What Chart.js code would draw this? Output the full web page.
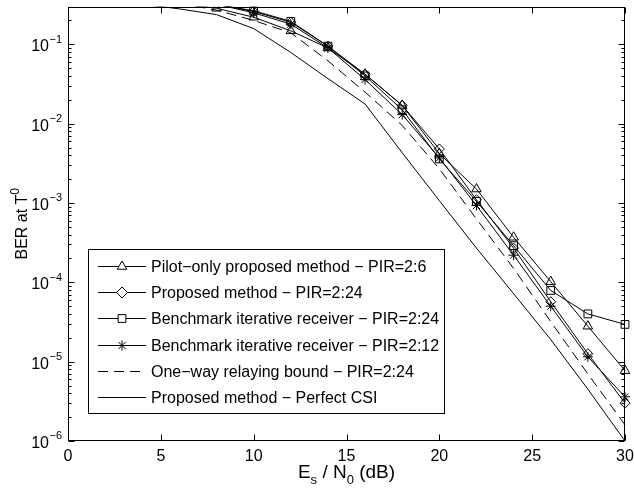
<!DOCTYPE html>
<html>
<head>
<meta charset="utf-8">
<script src="https://cdn.jsdelivr.net/npm/chart.js@4.4.1/dist/chart.umd.min.js"></script>
<style>
  html, body { margin: 0; padding: 0; background: #fff; }
  #wrap { width: 634px; height: 488px; }
</style>
</head>
<body>
<div id="wrap"><canvas id="ber" width="634" height="488"></canvas></div>
<script>
// Es/N0 in dB
var snr = [0, 2, 4, 6, 8, 10, 12, 14, 16, 18, 20, 22, 24, 26, 28, 30];

// BER at T0 (values above 0.3 are off the top of the axes)
var pilotOnly24  = [0.45, 0.42, 0.38, 0.33, 0.285, 0.22, 0.148, 0.09, 0.042, 0.017, 0.0042, 0.0015, 3.7e-4, 1.02e-4, 2.8e-5, 7.7e-6];
var proposed24   = [0.47, 0.44, 0.40, 0.35, 0.32, 0.26, 0.19, 0.095, 0.042, 0.017, 0.0048, 0.0011, 2.7e-4, 5.7e-5, 1.26e-5, 3.0e-6];
var benchmark24  = [0.47, 0.44, 0.40, 0.35, 0.32, 0.265, 0.195, 0.095, 0.040, 0.015, 0.0036, 0.00105, 2.9e-4, 7.9e-5, 4.0e-5, 2.95e-5];
var benchmark12  = [0.47, 0.44, 0.40, 0.35, 0.32, 0.25, 0.18, 0.09, 0.036, 0.013, 0.0037, 0.00093, 2.2e-4, 5.0e-5, 1.15e-5, 3.6e-6];
var oneWayBound  = [0.45, 0.42, 0.38, 0.33, 0.27, 0.20, 0.14, 0.062, 0.025, 0.0095, 0.0027, 6.3e-4, 1.5e-4, 3.2e-5, 7.0e-6, 1.6e-6];
var perfectCsi   = [0.42, 0.38, 0.32, 0.28, 0.237, 0.158, 0.079, 0.037, 0.0177, 0.0043, 0.00107, 2.7e-4, 7.2e-5, 1.9e-5, 4.5e-6, 1.0e-6];

var seriesNames = [
  'Pilot\u2212only proposed method \u2212 PIR=2:6',
  'Proposed method \u2212 PIR=2:24',
  'Benchmark iterative receiver \u2212 PIR=2:24',
  'Benchmark iterative receiver \u2212 PIR=2:12',
  'One\u2212way relaying bound \u2212 PIR=2:24',
  'Proposed method \u2212 Perfect CSI'
];

var xTicks = [0, 5, 10, 15, 20, 25, 30];
var yDecades = [-6, -5, -4, -3, -2, -1];
var X_MIN = 0, X_MAX = 30, Y_MIN = 1e-6, Y_MAX = 0.3;

var FONT = '"Liberation Sans", Arial, Helvetica, sans-serif';

function toPoints(ys) {
  return snr.map(function (x, i) { return { x: x, y: ys[i] }; });
}

function series(label, ys, style, radius, dash) {
  return {
    label: label,
    data: toPoints(ys),
    borderColor: '#000',
    borderWidth: 1,
    borderDash: dash || [],
    backgroundColor: 'rgba(0,0,0,0)',
    pointStyle: style || false,
    pointBorderColor: '#000',
    pointBackgroundColor: 'rgba(0,0,0,0)',
    pointBorderWidth: 1,
    pointRadius: function (c) {
      if (!style) return 0;
      return c.raw && c.raw.y > Y_MAX ? 0 : radius;
    },
    pointHoverRadius: 0,
    tension: 0,
    fill: false,
    clip: { left: 0, top: 0, right: 10, bottom: 10 }
  };
}

var datasets = [
  series(seriesNames[0], pilotOnly24, 'triangle', 5.5),
  series(seriesNames[1], proposed24, 'rectRot', 5),
  series(seriesNames[2], benchmark24, 'rect', 5.5),
  series(seriesNames[3], benchmark12, 'star', 5),
  series(seriesNames[4], oneWayBound, null, 0, [10, 6]),
  series(seriesNames[5], perfectCsi, null, 0)
];

function drawSup(ctx, base, sup, xRight, y, size) {
  // right aligned "base^sup", y = baseline of base text
  ctx.font = Math.round(size * 0.7) + 'px ' + FONT;
  var sw = ctx.measureText(sup).width;
  ctx.textAlign = 'left';
  ctx.textBaseline = 'alphabetic';
  ctx.fillText(sup, xRight - sw, y - size * 0.55);
  ctx.font = size + 'px ' + FONT;
  ctx.textAlign = 'right';
  ctx.fillText(base, xRight - sw - 0.5, y);
}

var framePlugin = {
  id: 'frame',
  afterDatasetsDraw: function (chart) {
    var ctx = chart.ctx, a = chart.chartArea;
    var xs = chart.scales.x, ys = chart.scales.y;
    var L = Math.round(a.left) + 0.5, R = Math.round(a.right) - 0.5;
    var T = Math.round(a.top) + 0.5, B = Math.round(a.bottom) - 0.5;
    ctx.save();
    ctx.strokeStyle = '#000';
    ctx.fillStyle = '#000';
    ctx.lineWidth = 1;
    ctx.setLineDash([]);

    // ticks pointing inwards on all four sides
    ctx.beginPath();
    xTicks.forEach(function (v) {
      var px = Math.round(xs.getPixelForValue(v)) + 0.5;
      ctx.moveTo(px, B); ctx.lineTo(px, B - 6);
      ctx.moveTo(px, T); ctx.lineTo(px, T + 6);
    });
    yDecades.forEach(function (e) {
      for (var k = 1; k <= 9; k++) {
        var v = k * Math.pow(10, e);
        if (v < Y_MIN || v > Y_MAX) continue;
        var py = Math.round(ys.getPixelForValue(v)) + 0.5;
        var len = k === 1 ? 6 : 3;
        ctx.moveTo(L, py); ctx.lineTo(L + len, py);
        ctx.moveTo(R, py); ctx.lineTo(R - len, py);
      }
    });
    ctx.stroke();
    ctx.strokeRect(L, T, R - L, B - T);

    // x tick labels
    ctx.font = '16px ' + FONT;
    ctx.textAlign = 'center';
    ctx.textBaseline = 'alphabetic';
    xTicks.forEach(function (v) {
      ctx.fillText(String(v), xs.getPixelForValue(v), B + 20);
    });

    // y tick labels 10^e
    yDecades.forEach(function (e) {
      var py = ys.getPixelForValue(Math.pow(10, e));
      drawSup(ctx, '10', '\u2212' + Math.abs(e), a.left - 6, py + 7, 16);
    });

    // x title: E_s / N_0 (dB)
    var cx = (a.left + a.right) / 2, by = B + 37;
    var parts = [['E', 0], ['s', 1], [' / N', 0], ['0', 1], [' (dB)', 0]];
    var widths = parts.map(function (p) {
      ctx.font = (p[1] ? 13 : 19) + 'px ' + FONT;
      return ctx.measureText(p[0]).width;
    });
    var total = widths.reduce(function (s, w) { return s + w; }, 0);
    var xx = cx - total / 2;
    ctx.textAlign = 'left';
    parts.forEach(function (p, i) {
      ctx.font = (p[1] ? 13 : 19) + 'px ' + FONT;
      ctx.fillText(p[0], xx, p[1] ? by + 6 : by);
      xx += widths[i];
    });

    // y title: BER at T^0
    ctx.save();
    ctx.translate(27, (a.top + a.bottom) / 2);
    ctx.rotate(-Math.PI / 2);
    ctx.font = '16px ' + FONT;
    var w1 = ctx.measureText('BER at T').width;
    ctx.font = '12px ' + FONT;
    var w2 = ctx.measureText('0').width;
    ctx.textAlign = 'left';
    ctx.font = '16px ' + FONT;
    ctx.fillText('BER at T', -(w1 + w2) / 2, 0);
    ctx.font = '12px ' + FONT;
    ctx.fillText('0', -(w1 + w2) / 2 + w1, -8);
    ctx.restore();

    // legend
    var lx = 88.5, ly = 249.5, lw = 356, lh = 164;
    ctx.fillStyle = '#fff';
    ctx.fillRect(lx, ly, lw, lh);
    ctx.strokeRect(lx, ly, lw, lh);
    ctx.font = '16px ' + FONT;
    ctx.textAlign = 'left';
    ctx.textBaseline = 'middle';
    chart.data.datasets.forEach(function (ds, i) {
      var ry = Math.round(266 + i * 26.2) + 0.5;
      ctx.strokeStyle = '#000';
      ctx.fillStyle = '#000';
      ctx.setLineDash(ds.borderDash || []);
      ctx.beginPath();
      ctx.moveTo(98, ry); ctx.lineTo(146, ry);
      ctx.stroke();
      ctx.setLineDash([]);
      if (ds.pointStyle) {
        ctx.fillStyle = '#fff';
        Chart.helpers.drawPoint(ctx, {
          pointStyle: ds.pointStyle,
          radius: ds.pointStyle === 'star' ? 5 : 5.5,
          rotation: 0,
          borderWidth: 1
        }, 122, ry);
        ctx.fillStyle = '#000';
      }
      ctx.fillText(ds.label, 151, ry + 1);
    });
    ctx.restore();
  }
};

new Chart(document.getElementById('ber').getContext('2d'), {
  type: 'line',
  data: { datasets: datasets },
  options: {
    responsive: false,
    animation: false,
    events: [],
    layout: { padding: { left: 68, top: 2, right: 9, bottom: 47 } },
    plugins: { legend: { display: false }, tooltip: { enabled: false } },
    scales: {
      x: { type: 'linear', min: X_MIN, max: X_MAX, display: false },
      y: { type: 'logarithmic', min: Y_MIN, max: Y_MAX, display: false }
    }
  },
  plugins: [framePlugin]
});
</script>
</body>
</html>
